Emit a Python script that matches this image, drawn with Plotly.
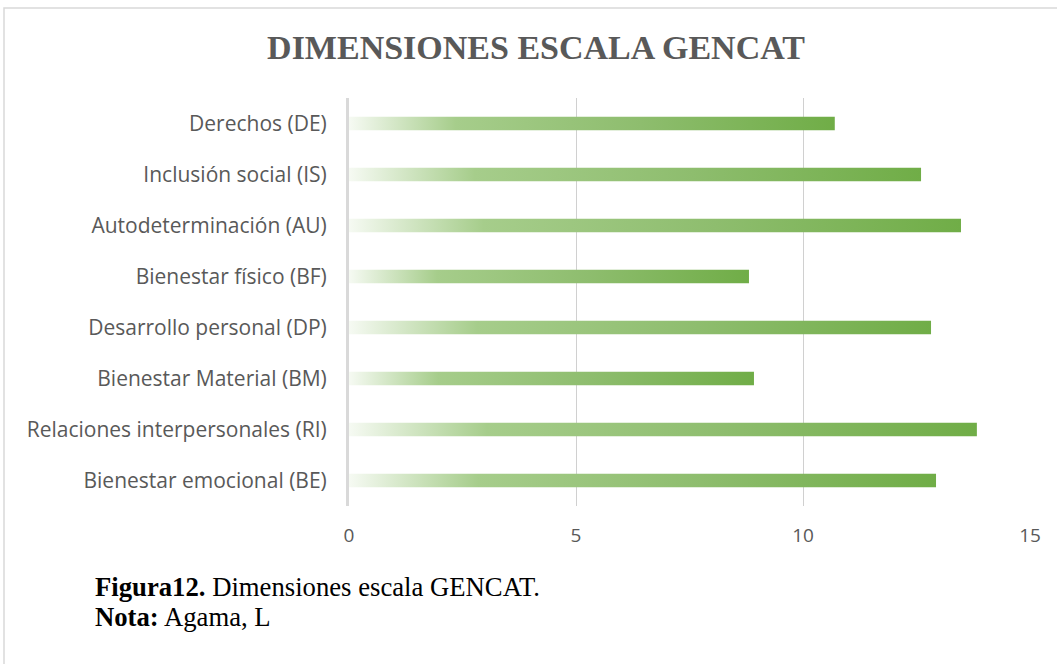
import plotly.graph_objects as go

# Data (top-to-bottom order as shown)
categories = [
    "Derechos (DE)",
    "Inclusión social (IS)",
    "Autodeterminación (AU)",
    "Bienestar físico (BF)",
    "Desarrollo personal (DP)",
    "Bienestar Material (BM)",
    "Relaciones interpersonales (RI)",
    "Bienestar emocional (BE)",
]
values = [10.7, 12.6, 13.48, 8.81, 12.82, 8.92, 13.83, 12.93]
x_ticks = [0, 5, 10, 15]

W, H = 1057, 664
ML, MR, MT, MB = 349, 27, 98, 158
pw, ph = W - ML - MR, H - MT - MB

n = len(categories)
half = 0.13  # half bar thickness in category units

fig = go.Figure()
grad = [[0.0, "rgba(246,250,243,1)"], [0.22, "#a6cd8b"], [0.6, "#8ebd6e"], [1.0, "#70ad47"]]
for idx, (cat, v) in enumerate(zip(categories, values)):
    yc = n - 1 - idx
    fig.add_trace(go.Scatter(
        x=[0, v, v, 0, 0],
        y=[yc - half, yc - half, yc + half, yc + half, yc - half],
        mode="lines",
        line=dict(width=0),
        fill="toself",
        fillgradient=dict(type="horizontal", colorscale=grad),
        hoverinfo="text",
        text=f"{cat}: {v}",
        showlegend=False,
    ))

fig.update_layout(
    width=W, height=H,
    margin=dict(l=ML, r=MR, t=MT, b=MB),
    paper_bgcolor="white", plot_bgcolor="white",
    showlegend=False,
    title=dict(
        text="<b>DIMENSIONES ESCALA GENCAT</b>",
        xref="paper", x=(536 - ML) / pw, xanchor="center",
        y=1 - 47 / H, yanchor="middle",
        font=dict(family="Liberation Serif", size=34, color="#595959"),
    ),
    xaxis=dict(
        range=[0, 15], tickvals=x_ticks, ticktext=[str(t) for t in x_ticks],
        showgrid=True, gridcolor="#d0d0d0", gridwidth=1,
        zeroline=False, showline=False, ticks="",
        tickfont=dict(family="Open Sans", size=19, color="#595959"),
        ticklabelstandoff=16, fixedrange=True,
    ),
    yaxis=dict(
        range=[-0.5, n - 0.5],
        tickvals=list(range(n)),
        ticktext=list(reversed(categories)),
        showgrid=False, zeroline=False,
        showline=True, linecolor="#d9d9d9", linewidth=3,
        ticks="", ticklabelstandoff=15,
        tickfont=dict(family="Open Sans", size=21, color="#595959"),
        fixedrange=True,
    ),
    shapes=[dict(
        type="rect", xref="paper", yref="paper",
        x0=(4 - ML) / pw, x1=(W + 20 - ML) / pw,
        y0=(H - MB - (H + 20)) / ph, y1=(H - MB - 8) / ph,
        line=dict(color="#d9d9d9", width=1.5), layer="below",
    )],
    annotations=[
        dict(text="<b>Figura12.</b> Dimensiones escala GENCAT.", xref="paper", yref="paper",
             x=(93 - ML) / pw, y=(H - MB - 587) / ph, xanchor="left", yanchor="middle",
             showarrow=False, font=dict(family="Liberation Serif", size=26.7, color="black")),
        dict(text="<b>Nota:</b> Agama, L", xref="paper", yref="paper",
             x=(93 - ML) / pw, y=(H - MB - 617) / ph, xanchor="left", yanchor="middle",
             showarrow=False, font=dict(family="Liberation Serif", size=26.7, color="black")),
    ],
)

fig.write_html("out.html", config={"displayModeBar": False},
               post_script="document.body.style.margin='0px';")
